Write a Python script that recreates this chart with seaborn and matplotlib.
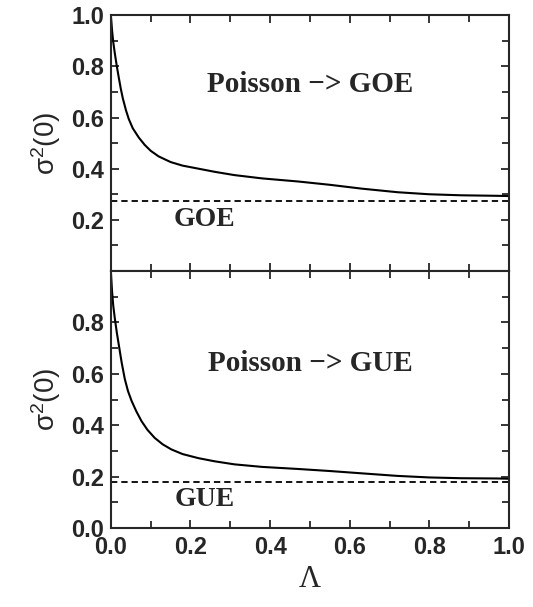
import matplotlib
matplotlib.use("Agg")

import numpy as np
import pandas as pd
import matplotlib.pyplot as plt
from matplotlib.ticker import MultipleLocator, FixedLocator
import seaborn as sns


# values
lam_goe = [0.0, 0.003, 0.006, 0.01, 0.015, 0.02, 0.025, 0.03, 0.038, 0.045,
           0.055, 0.07, 0.085, 0.1, 0.12, 0.15, 0.18, 0.22, 0.26, 0.31,
           0.38, 0.47, 0.55, 0.63, 0.72, 0.8, 0.88, 0.97, 1.0]
sigma_goe = [1.0, 0.94, 0.895, 0.85, 0.80, 0.755, 0.712, 0.675, 0.628, 0.594,
             0.558, 0.522, 0.493, 0.470, 0.448, 0.426, 0.412, 0.400, 0.388, 0.375,
             0.362, 0.350, 0.337, 0.322, 0.308, 0.300, 0.296, 0.294, 0.293]

lam_gue = [0.0, 0.003, 0.006, 0.01, 0.015, 0.02, 0.027, 0.035, 0.043, 0.052,
           0.064, 0.077, 0.092, 0.11, 0.13, 0.152, 0.18, 0.22, 0.26, 0.31,
           0.38, 0.47, 0.55, 0.63, 0.72, 0.8, 0.88, 0.97, 1.0]
sigma_gue = [1.0, 0.92, 0.865, 0.815, 0.76, 0.712, 0.645, 0.58, 0.533, 0.495,
             0.454, 0.416, 0.382, 0.351, 0.326, 0.306, 0.288, 0.272, 0.26, 0.248,
             0.238, 0.230, 0.222, 0.213, 0.203, 0.197, 0.194, 0.193, 0.192]

GOE_LEVEL = 0.273
GUE_LEVEL = 0.18

y_ticks_top = [0.2, 0.4, 0.6, 0.8, 1.0]
y_ticks_bottom = [0.0, 0.2, 0.4, 0.6, 0.8]
x_ticks = [0.0, 0.2, 0.4, 0.6, 0.8, 1.0]


def style_axis(ax, yticks, show_x):

    ax.set_xlim(0, 1)
    ax.set_ylim(0, 1)

    ax.xaxis.set_major_locator(FixedLocator(x_ticks))
    ax.xaxis.set_minor_locator(MultipleLocator(0.1))
    ax.yaxis.set_major_locator(FixedLocator(yticks))
    ax.yaxis.set_minor_locator(MultipleLocator(0.1))

    ax.tick_params(which="both", direction="in", top=True, right=True,
                   width=1.3, labelsize=17)
    ax.tick_params(which="major", length=6)
    ax.tick_params(which="minor", length=5)
    ax.tick_params(axis="y", pad=5)
    ax.tick_params(axis="x", pad=6)

    for lbl in ax.get_xticklabels() + ax.get_yticklabels():
        lbl.set_fontweight("bold")
        lbl.set_family("Liberation Sans")

    if not show_x:
        ax.tick_params(axis="x", labelbottom=False)

    for s in ax.spines.values():
        s.set_linewidth(1.5)

    ax.set_xlabel("")
    ax.set_ylabel(r"$\mathregular{\sigma^{2}}$(0)", fontsize=20,
                  labelpad=6)


def main():

    sns.set_style("ticks")
    plt.rcParams["font.family"] = ["Liberation Sans", "DejaVu Sans"]

    fig = plt.figure(figsize=(5.33, 6.07), dpi=100)

    ax_top = fig.add_axes([0.208, 0.5535, 0.747, 0.4215])
    ax_bot = fig.add_axes([0.208, 0.130, 0.747, 0.4235])

    df_goe = pd.DataFrame({"lam": lam_goe, "sigma": sigma_goe})
    df_gue = pd.DataFrame({"lam": lam_gue, "sigma": sigma_gue})

    sns.lineplot(data=df_goe, x="lam", y="sigma", ax=ax_top,
                 color="black", linewidth=1.5)
    ax_top.axhline(GOE_LEVEL, color="black", linewidth=1.3,
                   linestyle=(0, (3.5, 2.2)))

    sns.lineplot(data=df_gue, x="lam", y="sigma", ax=ax_bot,
                 color="black", linewidth=1.5)
    ax_bot.axhline(GUE_LEVEL, color="black", linewidth=1.3,
                   linestyle=(0, (3.5, 2.2)))

    style_axis(ax_top, y_ticks_top, show_x=False)
    style_axis(ax_bot, y_ticks_bottom, show_x=True)

    serif = "Liberation Serif"

    ax_top.text(0.5, 0.73, "Poisson \u2212> GOE", ha="center", va="center",
                fontsize=21, fontweight="bold", family=serif)
    ax_top.text(0.235, 0.20, "GOE", ha="center", va="center",
                fontsize=20, fontweight="bold", family=serif)

    ax_bot.text(0.5, 0.64, "Poisson \u2212> GUE", ha="center", va="center",
                fontsize=21, fontweight="bold", family=serif)
    ax_bot.text(0.235, 0.11, "GUE", ha="center", va="center",
                fontsize=20, fontweight="bold", family=serif)

    ax_bot.set_xlabel("\u039b", fontsize=22, family=serif, labelpad=4)

    fig.savefig("out.png", dpi=100)
    plt.close(fig)


if __name__ == "__main__":
    main()
